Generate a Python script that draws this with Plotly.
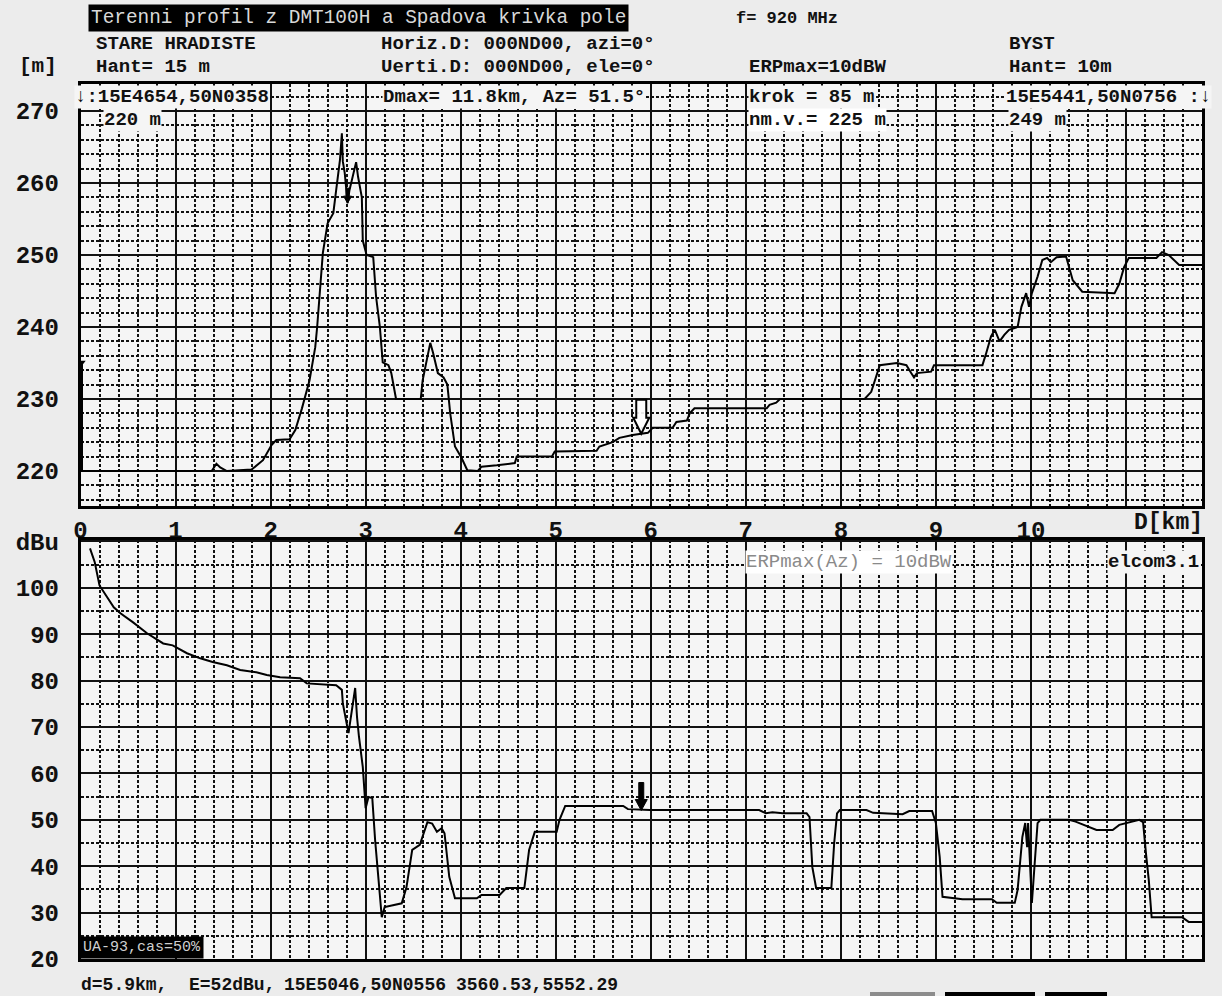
import numpy as np
import plotly.graph_objects as go

W, H = 1222, 996
MONO = "Liberation Mono, Courier New, monospace"

# ---- terrain profile (distance km, height m) ----
profile_km = [
    0.00, 1.38, 1.43, 1.47, 1.54, 1.80, 1.92, 2.01, 2.06, 2.20,
    2.26, 2.33, 2.41, 2.47, 2.49, 2.52, 2.55, 2.60, 2.66, 2.69,
    2.73, 2.75, 2.76, 2.78, 2.81, 2.83, 2.87, 2.90, 2.92, 2.96,
    2.97, 3.01, 3.08, 3.11, 3.15, 3.18, 3.24, 3.27, 3.32, 3.58,
    3.60, 3.68, 3.71, 3.76, 3.82, 3.86, 3.89, 3.94, 4.01, 4.07,
    4.18, 4.22, 4.38, 4.57, 4.59, 4.96, 4.99, 5.43, 5.46, 5.60,
    5.67, 5.81, 5.97, 6.02, 6.23, 6.27, 6.38, 6.41, 6.46, 7.22,
    7.25, 7.32, 7.36, 8.25, 8.32, 8.37, 8.41, 8.59, 8.69, 8.74,
    8.77, 8.80, 8.95, 8.98, 9.49, 9.53, 9.58, 9.62, 9.67, 9.72,
    9.77, 9.86, 9.90, 9.95, 9.98, 10.01, 10.07, 10.12, 10.17, 10.21,
    10.27, 10.37, 10.40, 10.44, 10.54, 10.88, 10.93, 10.98, 11.03, 11.32,
    11.38, 11.45, 11.56, 11.80]
profile_m = [
    220.0, 220.0, 221.0, 220.5, 220.0, 220.2, 221.5, 223.6, 224.3, 224.4,
    225.7, 228.7, 232.6, 237.2, 240.0, 244.7, 250.3, 254.4, 255.8, 259.0,
    263.2, 266.9, 263.0, 261.4, 257.2, 259.0, 261.4, 262.9, 260.9, 258.0,
    252.0, 250.0, 249.7, 244.2, 240.0, 235.1, 234.7, 233.6, 230.0, 230.0,
    232.6, 237.8, 236.4, 233.6, 233.0, 232.0, 228.0, 223.4, 221.8, 220.1,
    220.0, 220.6, 220.8, 221.1, 222.0, 222.0, 222.7, 222.8, 223.4, 224.0,
    224.6, 225.0, 225.3, 226.0, 226.0, 226.8, 227.0, 228.0, 228.7, 228.7,
    229.2, 229.5, 230.0, 230.0, 231.0, 233.0, 234.7, 235.0, 234.7, 233.6,
    233.0, 233.6, 233.8, 234.7, 234.7, 236.4, 238.7, 239.6, 238.0, 238.9,
    239.6, 240.0, 242.8, 244.7, 242.8, 244.7, 247.0, 249.3, 249.6, 249.0,
    249.7, 249.8, 248.3, 246.5, 244.9, 244.7, 246.0, 248.3, 249.6, 249.6,
    250.4, 250.0, 248.6, 248.6]

# ---- field strength curve (distance km, dBuV/m) ----
field_km = [
    0.10, 0.15, 0.20, 0.28, 0.35, 0.42, 0.55, 0.70, 0.87, 0.97,
    1.12, 1.26, 1.39, 1.54, 1.68, 1.85, 1.96, 2.10, 2.31, 2.38,
    2.69, 2.75, 2.76, 2.80, 2.82, 2.84, 2.87, 2.89, 2.91, 2.93,
    2.97, 2.99, 3.00, 3.03, 3.07, 3.10, 3.13, 3.17, 3.20, 3.38,
    3.43, 3.49, 3.57, 3.65, 3.70, 3.75, 3.80, 3.83, 3.88, 3.94,
    4.17, 4.22, 4.41, 4.48, 4.67, 4.72, 4.78, 5.01, 5.04, 5.10,
    5.71, 5.76, 5.99, 7.14, 7.21, 7.28, 7.39, 7.64, 7.67, 7.70,
    7.74, 7.90, 7.93, 7.96, 7.99, 8.27, 8.34, 8.65, 8.72, 8.96,
    9.00, 9.04, 9.07, 9.28, 9.59, 9.64, 9.83, 9.86, 9.91, 9.94,
    9.96, 9.97, 10.01, 10.04, 10.07, 10.10, 10.40, 10.47, 10.60, 10.69,
    10.86, 10.93, 11.14, 11.18, 11.21, 11.24, 11.27, 11.59, 11.66, 11.80]
field_dbu = [
    108.5, 105.5, 100.5, 98.0, 95.8, 94.5, 92.6, 90.2, 88.0, 87.6,
    85.9, 84.8, 84.0, 83.3, 82.3, 81.8, 81.2, 80.7, 80.5, 79.4,
    79.0, 78.0, 75.1, 70.8, 68.7, 71.5, 75.8, 78.4, 72.0, 67.9,
    61.4, 55.5, 52.5, 54.9, 54.7, 45.6, 38.5, 29.0, 31.2, 32.0,
    35.5, 43.5, 44.6, 49.5, 49.2, 47.4, 48.2, 47.1, 37.7, 33.1,
    33.1, 33.8, 33.8, 35.3, 35.3, 43.5, 47.4, 47.4, 50.0, 53.0,
    53.0, 52.3, 52.1, 52.1, 51.4, 51.6, 51.4, 51.4, 50.6, 39.8,
    35.3, 35.3, 45.0, 51.4, 52.1, 52.1, 51.5, 51.2, 51.9, 51.9,
    49.3, 42.0, 33.4, 32.9, 32.9, 32.1, 32.1, 34.9, 46.3, 49.3,
    44.1, 49.3, 32.1, 39.8, 49.3, 50.0, 50.0, 49.6, 48.5, 47.8,
    47.8, 48.9, 50.0, 49.5, 42.8, 37.0, 29.0, 29.0, 28.0, 28.0]

# ---- link parameters ----
d_max = 11.8          # path length, km
tx_ground = 220       # transmitter site elevation, m
tx_hant = 15          # transmitter antenna height, m
cursor_d = 5.9        # cursor distance, km
cursor_E = 52         # field strength at cursor, dBu
obstacle_d = 2.81     # marked obstacle, km

m_range = [215.14, 273.75]
dbu_range = [20, 110.3]

# panel placement in pixels
PX_L, PX_R = 80.5, 1202
TOP_T, TOP_B = 84, 506
BOT_T, BOT_B = 540, 959

fig = go.Figure()

fig.add_trace(go.Scatter(x=profile_km, y=profile_m, mode="lines",
                         line=dict(color="#000", width=2), xaxis="x", yaxis="y",
                         hoverinfo="skip"))
fig.add_trace(go.Scatter(x=field_km, y=field_dbu, mode="lines",
                         line=dict(color="#000", width=2), xaxis="x2", yaxis="y2",
                         hoverinfo="skip"))

# transmitter antenna mast at distance 0
fig.add_shape(type="line", xref="x", yref="y", x0=0, x1=0,
              y0=tx_ground, y1=tx_ground + tx_hant,
              line=dict(color="#000", width=5))
fig.add_trace(go.Scatter(x=[0], y=[tx_ground + tx_hant], mode="markers",
                         marker=dict(symbol="triangle-down", size=9, color="#000"),
                         xaxis="x", yaxis="y", hoverinfo="skip"))

# cursor arrows (pixel-sized, anchored to data)
ground_at_cursor = float(np.interp(cursor_d, profile_km, profile_m))
fig.add_shape(type="path", xref="x", yref="y", xsizemode="pixel", ysizemode="pixel",
              xanchor=cursor_d, yanchor=ground_at_cursor,
              path="M0,0 L-8,16 L-5,16 L-5,34 L5,34 L5,16 L8,16 Z",
              line=dict(color="#000", width=2), fillcolor="rgba(255,255,255,0.9)")
fig.add_shape(type="path", xref="x2", yref="y2", xsizemode="pixel", ysizemode="pixel",
              xanchor=cursor_d, yanchor=cursor_E,
              path="M0,0 L-6,11 L-2.5,11 L-2.5,28 L2.5,28 L2.5,11 L6,11 Z",
              line=dict(color="#000", width=1), fillcolor="#000")
obstacle_h = float(np.interp(obstacle_d, profile_km, profile_m))
fig.add_shape(type="path", xref="x", yref="y", xsizemode="pixel", ysizemode="pixel",
              xanchor=obstacle_d, yanchor=obstacle_h,
              path="M0,0 L-4,7 L-1.5,7 L-1.5,15 L1.5,15 L1.5,7 L4,7 Z",
              line=dict(color="#000", width=1), fillcolor="#000")

grid_major = dict(showgrid=True, gridcolor="#111", gridwidth=2)
frame = dict(showline=True, linecolor="#000", linewidth=2.5, mirror=True,
             zeroline=False, ticks="", automargin=False)
tick_font = dict(family=MONO, size=24, color="#111", weight="bold")


def minor(step, start):
    return dict(dtick=step, tick0=start, showgrid=True, gridcolor="#111",
                gridwidth=1.5, griddash="3px,2px")


x_common = dict(range=[0, d_max], tick0=0, dtick=1, **grid_major, **frame,
                minor=minor(0.2, 0),
                domain=[PX_L / W, PX_R / W])

fig.update_layout(
    width=W, height=H, margin=dict(l=0, r=0, t=0, b=0, autoexpand=False),
    paper_bgcolor="#ececec", plot_bgcolor="#f5f5f5",
    showlegend=False, font=dict(family=MONO, color="#111"),
    xaxis=dict(**x_common, anchor="y", side="bottom", showticklabels=True,
               tickfont=tick_font, labelalias={"11": ""}, ticklabelstandoff=0),
    yaxis=dict(range=m_range, tick0=220, dtick=10, **grid_major, **frame,
               minor=minor(2, 220), anchor="x",
               domain=[1 - TOP_B / H, 1 - TOP_T / H],
               tickfont=tick_font, ticklabelstandoff=14),
    xaxis2=dict(**x_common, anchor="y2", showticklabels=False),
    yaxis2=dict(range=dbu_range, tick0=20, dtick=10, **grid_major, **frame,
                minor=minor(5, 20), anchor="x2",
                domain=[1 - BOT_B / H, 1 - BOT_T / H],
                tickfont=tick_font, ticklabelstandoff=14,
                labelalias={"110": "dBu"}),
)


def label(text, X, Y, size=19, anchor="left", bold=True, color="#111",
          bg=None, pad=0):
    fig.add_annotation(text=text, x=X / W, y=1 - Y / H, xref="paper", yref="paper",
                       xanchor=anchor, yanchor="middle", showarrow=False,
                       font=dict(family=MONO, size=size, color=color,
                                 weight="bold" if bold else "normal"),
                       bgcolor=bg, borderpad=pad)


# header
label("Terenni profil z DMT100H a Spadova krivka pole", 88, 18, size=19.4,
      bold=False, color="#d8d8d8", bg="#000", pad=2)
label("f= 920 MHz", 735, 18, size=17)
label("STARE HRADISTE", 95, 44)
label("Horiz.D: 000ND00, azi=0°", 380, 44)
label("BYST", 1008, 44)
label("[m]", 18, 67, size=21)
label("Hant= 15 m", 95, 67)
label("Uerti.D: 000ND00, ele=0°", 380, 67)
label("ERPmax=10dBW", 748, 67)
label("Hant= 10m", 1008, 67)

# info rows inside the terrain panel
row_bg = "#f5f5f5"
label("↓:15E4654,50N0358", 74, 97, size=19, bg=row_bg)
label("Dmax= 11.8km, Az= 51.5°", 382, 97, size=19, bg=row_bg)
label("krok = 85 m", 748, 97, size=19, bg=row_bg)
label("15E5441,50N0756 :↓", 1212, 97, size=19, bg=row_bg, anchor="right")
label("220 m", 103, 120, size=19, bg=row_bg)
label("nm.v.= 225 m", 748, 120, size=19, bg="#ffffff")
label("249 m", 1008, 120, size=19, bg=row_bg)

# axis caption between the panels
label("D[km]", 1204, 523, size=23, anchor="right")

# field panel notes
label("ERPmax(Az) = 10dBW", 745, 562, size=19, bold=False, color="#8a8a8a", bg="#ffffff")
label("elcom3.1", 1200, 562, size=19, anchor="right", bg=row_bg)
label("UA-93,cas=50%", 80, 947, size=15, bold=False, color="#cfcfcf", bg="#000", pad=2)

# status line
label("d=5.9km,", 80, 985, size=18)
label("E=52dBu,", 188, 985, size=18)
label("15E5046,50N0556", 283, 985, size=18)
label("3560.53,5552.29", 455, 985, size=18)

# buttons cut at the bottom edge
for x0, x1, col in [(870, 935, "#8c8c8c"), (945, 1035, "#000"), (1045, 1107, "#000")]:
    fig.add_shape(type="rect", xref="paper", yref="paper",
                  x0=x0 / W, x1=x1 / W, y0=0, y1=1 - 992 / H,
                  line=dict(width=0), fillcolor=col)

fig.write_html("out.html")
